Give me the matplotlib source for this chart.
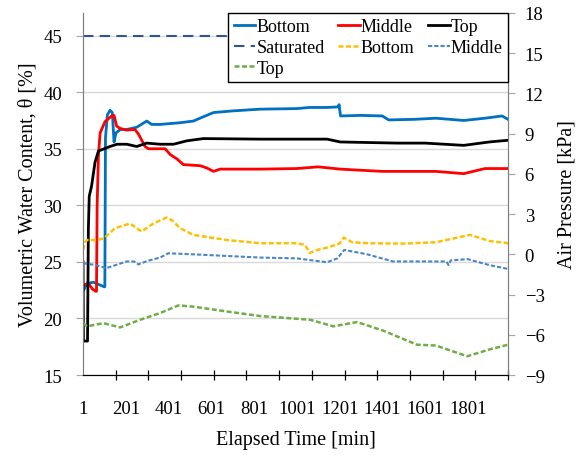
import matplotlib
matplotlib.use("Agg")
import matplotlib.pyplot as plt
import numpy as np

plt.rcParams['font.family'] = ['Liberation Serif', 'DejaVu Serif']

# ---- data ----
# Volumetric water content [%] (left axis)
t_wc_bottom = [1, 20, 50, 75, 100, 103, 106, 115, 127, 138, 146, 155, 175, 205, 252, 299, 322, 361, 455,
               517, 560, 611, 704, 829, 1000, 1060, 1140, 1195, 1198, 1205, 1300, 1400, 1430, 1550, 1651,
               1781, 1880, 1960, 1988]
wc_bottom = [22.4, 23.1, 23.2, 23.0, 22.8, 22.8, 36.0, 38.0, 38.4, 38.2, 35.6, 36.4, 36.7, 36.7, 36.9, 37.45,
             37.15, 37.15, 37.3, 37.45, 37.8, 38.2, 38.35, 38.5, 38.55, 38.65, 38.65, 38.7, 38.9, 37.9, 37.95,
             37.9, 37.55, 37.6, 37.7, 37.5, 37.7, 37.9, 37.6]

t_wc_middle = [1, 30, 45, 60, 64, 67, 73, 81, 104, 135, 146, 158, 174, 205, 244, 260, 291, 307, 385, 408,
               440, 470, 549, 580, 611, 642, 829, 1000, 1100, 1204, 1300, 1400, 1650, 1781, 1880, 1988]
wc_middle = [23.0, 23.0, 22.6, 22.4, 22.4, 30.0, 34.4, 36.4, 37.4, 37.9, 37.95, 37.0, 36.8, 36.65, 36.7,
             36.3, 35.2, 35.0, 35.0, 34.5, 34.1, 33.6, 33.5, 33.3, 33.0, 33.2, 33.2, 33.25, 33.4, 33.2,
             33.1, 33.0, 33.0, 32.8, 33.25, 33.25]

t_wc_top = [1, 3, 22, 26, 30, 41, 57, 73, 127, 160, 206, 252, 299, 361, 424, 486, 564, 829, 1142, 1204,
            1469, 1600, 1781, 1900, 1988]
wc_top = [25.0, 18.0, 18.0, 27.9, 30.8, 31.7, 33.8, 34.8, 35.2, 35.4, 35.4, 35.2, 35.5, 35.4, 35.4, 35.7,
          35.9, 35.85, 35.85, 35.6, 35.5, 35.5, 35.3, 35.6, 35.75]

t_saturated = [1, 1988]
wc_saturated = [45, 45]

# Air pressure [kPa] (right axis)
t_ap_bottom = [1, 10, 20, 70, 100, 150, 221, 275, 330, 392, 420, 455, 517, 673, 829, 1000, 1040, 1060,
               1090, 1142, 1200, 1220, 1260, 1330, 1500, 1650, 1810, 1900, 1988]
ap_bottom = [0.33, 0.9, 1.07, 1.07, 1.2, 1.95, 2.3, 1.7, 2.3, 2.75, 2.5, 1.95, 1.45, 1.07, 0.83, 0.83, 0.7,
             0.1, 0.3, 0.5, 0.8, 1.25, 0.9, 0.83, 0.8, 0.9, 1.45, 1.0, 0.83]

t_ap_middle = [1, 60, 110, 205, 240, 260, 300, 361, 400, 517, 829, 1000, 1142, 1190, 1222, 1330, 1450,
               1700, 1710, 1720, 1800, 1900, 1988]
ap_middle = [-0.66, -0.8, -1.03, -0.53, -0.53, -0.75, -0.5, -0.24, 0.08, 0.0, -0.24, -0.3, -0.59, -0.3,
             0.33, 0.0, -0.53, -0.53, -0.8, -0.45, -0.36, -0.8, -1.09]

t_ap_top = [1, 20, 96, 174, 268, 361, 447, 517, 673, 829, 1063, 1172, 1282, 1406, 1563, 1651, 1797,
            1900, 1988]
ap_top = [-5.13, -5.37, -5.13, -5.45, -4.88, -4.38, -3.81, -3.9, -4.26, -4.6, -4.88, -5.37, -5.05, -5.7,
          -6.74, -6.8, -7.6, -7.1, -6.74]

x_tick_labels = [1, 201, 401, 601, 801, 1001, 1201, 1401, 1601, 1801]
left_ticks = [15, 20, 25, 30, 35, 40, 45]
right_ticks = [-9, -6, -3, 0, 3, 6, 9, 12, 15, 18]

# ---- figure ----
fig = plt.figure(figsize=(5.81, 4.56), dpi=100)
ax = fig.add_axes([0.1429, 0.1754, 0.8744 - 0.1429, 0.9693 - 0.1754])
ax2 = ax.twinx()

h_bot, = ax.plot(t_wc_bottom, wc_bottom, color='#0070C0', lw=2.0, label='Bottom', zorder=3)
h_mid, = ax.plot(t_wc_middle, wc_middle, color='#FF0000', lw=2.0, label='Middle', zorder=3)
h_top, = ax.plot(t_wc_top, wc_top, color='#000000', lw=2.0, label='Top', zorder=3)
h_sat, = ax.plot(t_saturated, wc_saturated, color='#2F5597', lw=1.5, dashes=(5, 3), label='Saturated', zorder=3)

ha_bot, = ax2.plot(t_ap_bottom, ap_bottom, color='#FFC000', lw=1.8, dashes=(2, 1), label='Bottom')
ha_mid, = ax2.plot(t_ap_middle, ap_middle, color='#4A86C5', lw=1.5, dashes=(2, 1), label='Middle')
ha_top, = ax2.plot(t_ap_top, ap_top, color='#70AD47', lw=1.8, dashes=(2, 1), label='Top')

xmax = 1988
ax.set_xlim(1, xmax)
ax.set_ylim(15, 47)
ax2.set_ylim(-9, 18)

ax.set_xticks(x_tick_labels)
ax.set_xticklabels([str(v) for v in x_tick_labels])
ax.set_xticks(np.linspace(1, xmax, 14), minor=True)
ax.tick_params(axis='x', which='major', length=0, pad=18, labelsize=13.5)
ax.tick_params(axis='x', which='minor', length=7, direction='inout', color='black', width=0.9)

ax.set_yticks(left_ticks)
ax.tick_params(axis='y', which='major', length=5, direction='out', color='#A6A6A6', pad=10, labelsize=13.5)
ax.grid(axis='y', color='#D9D9D9', lw=1.0)
ax.set_axisbelow(True)

ax2.set_yticks(right_ticks)
ax2.tick_params(axis='y', which='major', length=5, direction='out', color='#A6A6A6', pad=7, labelsize=13.5)

for a in (ax, ax2):
    a.spines['top'].set_visible(False)
    a.spines['left'].set_color('#808080')
    a.spines['right'].set_color('#808080')
    a.spines['bottom'].set_color('black')

ax.set_xlabel('Elapsed Time [min]', fontsize=14.5, labelpad=9)
ax.set_ylabel('Volumetric Water Content, θ [%]', fontsize=14.5, labelpad=4)
ax2.set_ylabel('Air Pressure [kPa]', fontsize=14.5, labelpad=9)

handles = [h_bot, h_sat, ha_top, h_mid, ha_bot, h_top, ha_mid]
leg = ax2.legend(handles, [h.get_label() for h in handles], ncol=3, loc='upper right',
                 bbox_to_anchor=(1.0, 1.0), fontsize=13, frameon=True, fancybox=False,
                 edgecolor='black', framealpha=1.0, handlelength=1.2, handletextpad=0.05,
                 columnspacing=0.75, labelspacing=0.2, borderpad=0.3, borderaxespad=0.0)
leg.get_frame().set_linewidth(1.0)
leg.set_zorder(10)

fig.savefig('out.png', dpi=100)
